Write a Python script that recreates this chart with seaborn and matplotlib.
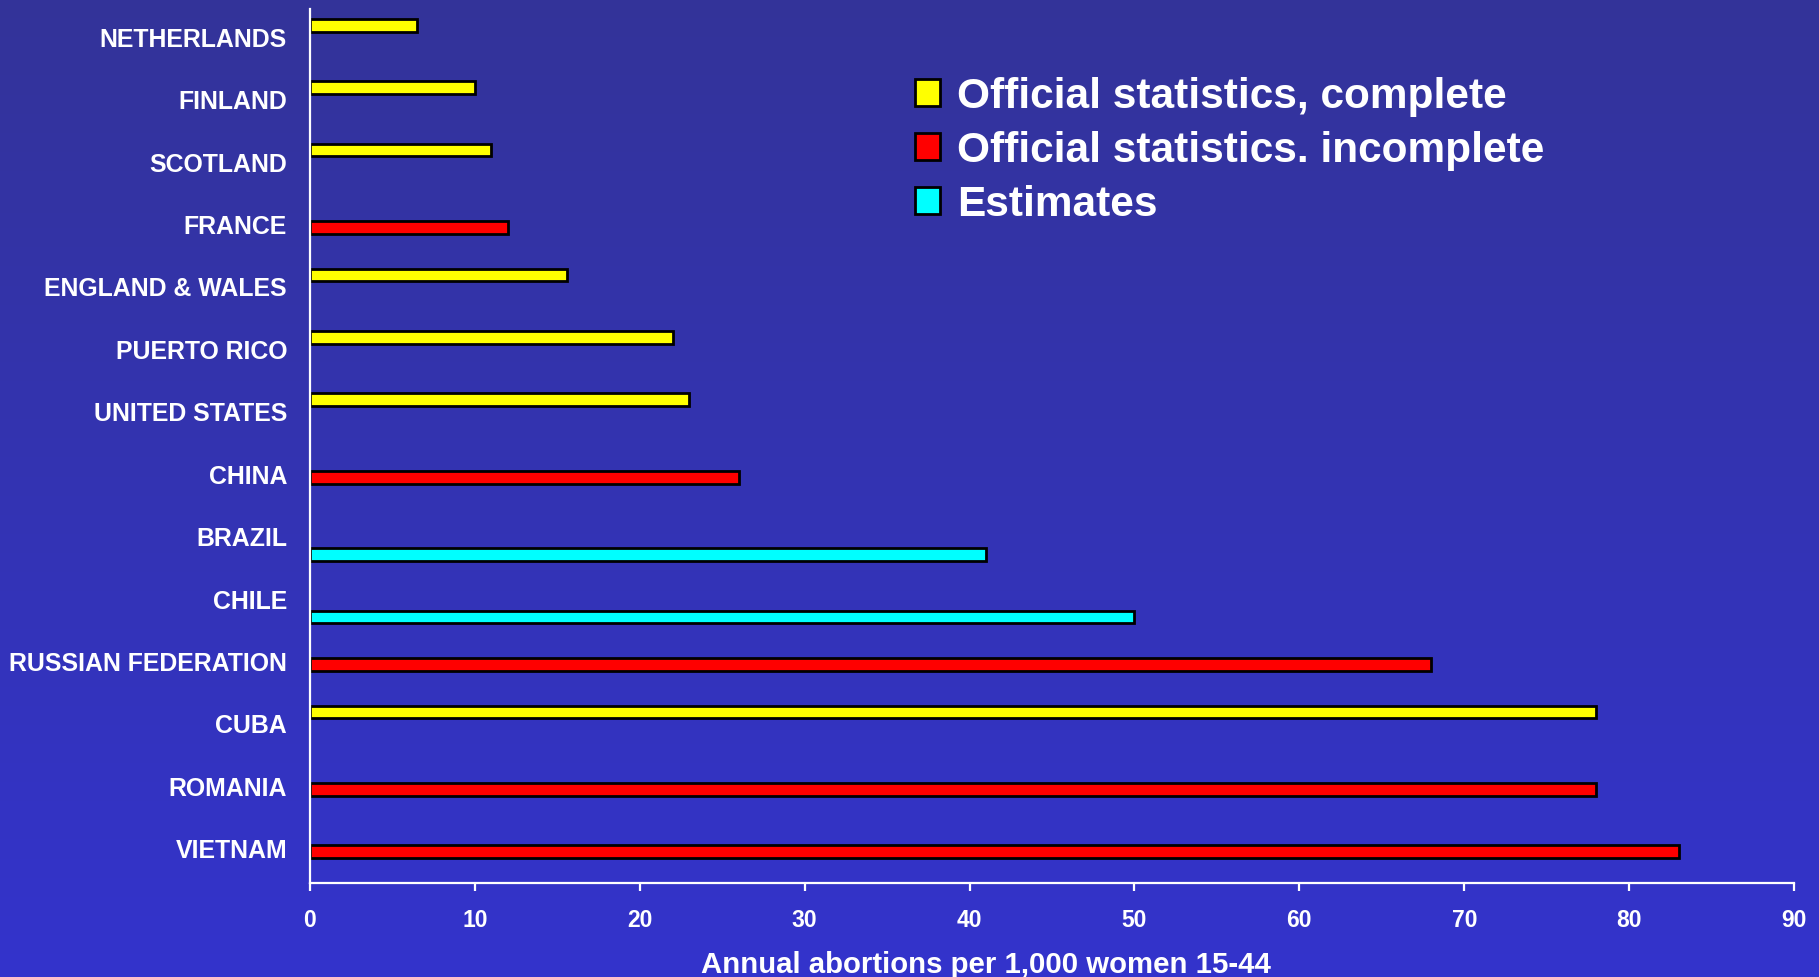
import numpy as np
import pandas as pd
import matplotlib
matplotlib.use("Agg")
import matplotlib.pyplot as plt
from matplotlib.colors import LinearSegmentedColormap
from matplotlib.font_manager import FontProperties
from matplotlib.transforms import ScaledTranslation
import matplotlib.patches as mpatches
import seaborn as sns

# Abortion rates by country and by kind of data source
countries = ["NETHERLANDS", "FINLAND", "SCOTLAND", "FRANCE", "ENGLAND & WALES",
             "PUERTO RICO", "UNITED STATES", "CHINA", "BRAZIL", "CHILE",
             "RUSSIAN FEDERATION", "CUBA", "ROMANIA", "VIETNAM"]
rates = [6.5, 10, 11, 12, 15.6, 22, 23, 26, 41, 50, 68, 78, 78, 83]
source_labels = ["Official statistics, complete",
                 "Official statistics. incomplete",
                 "Estimates"]
source_index = [0, 0, 0, 1, 0, 0, 0, 1, 2, 2, 1, 0, 1, 1]
source_colors = ["#FFFF00", "#FF0000", "#00FFFF"]
x_ticks = list(range(0, 100, 10))
x_title = "Annual abortions per 1,000 women 15-44"

df = pd.DataFrame({
    "country": countries,
    "rate": rates,
    "source": [source_labels[i] for i in source_index],
})

font = "Liberation Sans"

sns.set_theme(style="white")
plt.rcParams["font.family"] = [font, "DejaVu Sans"]

fig = plt.figure(figsize=(18.19, 9.78), dpi=100)

# vertical blue gradient behind everything
bg = fig.add_axes([0, 0, 1, 1], zorder=-10)
grad = np.linspace(0, 1, 256).reshape(-1, 1)
cmap = LinearSegmentedColormap.from_list("bluegrad", ["#333399", "#3333CC"])
bg.imshow(grad, aspect="auto", cmap=cmap, extent=[0, 1, 0, 1], origin="upper")
bg.set_axis_off()

ax = fig.add_axes([0.1704, 0.0961, 0.8159, 0.8937])
ax.set_facecolor("none")

sns.barplot(data=df, y="country", x="rate", hue="source",
            order=countries, hue_order=source_labels, palette=source_colors,
            orient="h", dodge=True, width=0.72, gap=0.15, saturation=1,
            edgecolor="black", linewidth=2, ax=ax, legend=True)

ax.set_xlim(0, 90)
ax.set_ylim(len(countries) - 0.5, -0.5)
ax.set_xticks(x_ticks)
ax.set_xticklabels([str(t) for t in x_ticks])

for side in ("top", "right"):
    ax.spines[side].set_visible(False)
for side in ("left", "bottom"):
    ax.spines[side].set_color("white")
    ax.spines[side].set_linewidth(1.6)

ax.tick_params(axis="x", bottom=True, length=6, width=1.6, color="white",
               pad=12, labelcolor="white")
ax.tick_params(axis="y", left=False, length=0, pad=16.5, labelcolor="white")

for lab in ax.get_xticklabels():
    lab.set_fontproperties(FontProperties(family=font, weight="bold", size=16.5))
lift = ScaledTranslation(0, 0.04, fig.dpi_scale_trans)
for lab in ax.get_yticklabels():
    lab.set_fontproperties(FontProperties(family=font, weight="bold", size=17.9))
    lab.set_transform(lab.get_transform() + lift)

ax.set_ylabel("")
ax.set_xlabel(x_title, color="white", labelpad=14,
              fontproperties=FontProperties(family=font, weight="bold", size=21.2))
ax.xaxis.label.set_x(0.4555)

handles = [mpatches.Patch(facecolor=c, edgecolor="black", linewidth=2)
           for c in source_colors]
ax.legend(handles, source_labels, loc="upper left",
          bbox_to_anchor=(0.503, 0.921), bbox_transform=fig.transFigure,
          frameon=False, labelcolor="white",
          prop=FontProperties(family=font, weight="bold", size=30.5),
          handlelength=0.6, handleheight=0.6, handletextpad=0.4,
          labelspacing=0.33, borderaxespad=0, borderpad=0)

fig.savefig("out.png", dpi=100)
